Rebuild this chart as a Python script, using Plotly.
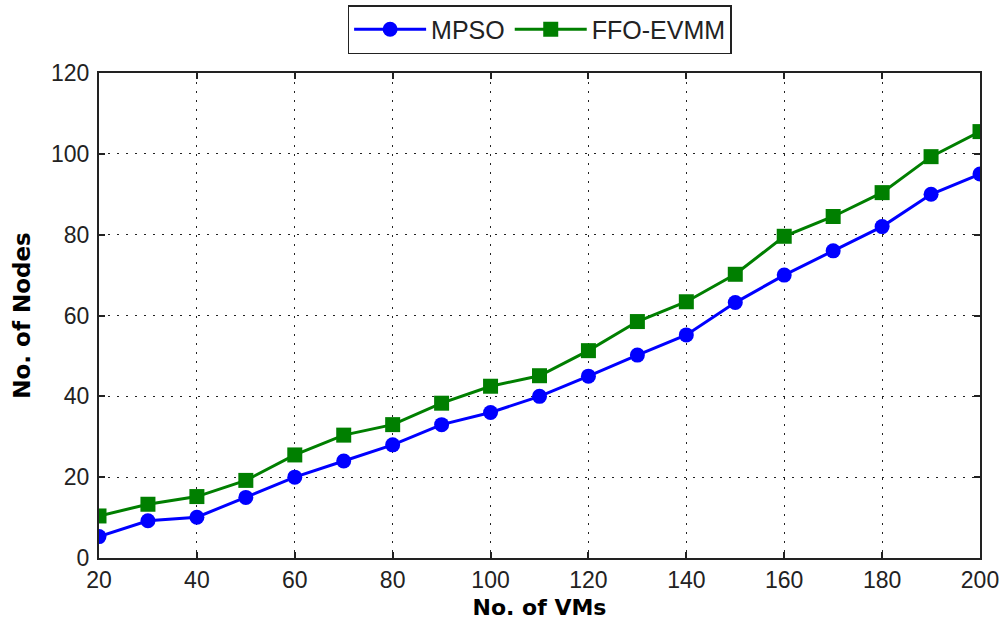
import plotly.graph_objects as go

vms = [20, 30, 40, 50, 60, 70, 80, 90, 100, 110, 120, 130, 140, 150, 160, 170, 180, 190, 200]
mpso = [5.3, 9.2, 10.1, 15.0, 20.0, 24.0, 28.0, 33.0, 36.0, 40.0, 45.0, 50.2, 55.2, 63.2, 70.0, 76.0, 82.0, 90.0, 95.0]
ffo_evmm = [10.4, 13.3, 15.2, 19.2, 25.5, 30.4, 33.0, 38.3, 42.5, 45.1, 51.3, 58.5, 63.4, 70.2, 79.6, 84.5, 90.4, 99.3, 105.5]

x_ticks = [20, 40, 60, 80, 100, 120, 140, 160, 180, 200]
y_ticks = [0, 20, 40, 60, 80, 100, 120]

tick_font = dict(family="Liberation Sans, Arial", size=23, color="#222")
title_font = dict(family="DejaVu Sans, Arial", size=22, color="black", weight="bold")

fig = go.Figure()
fig.add_trace(go.Scatter(
    x=vms, y=mpso, name="MPSO", mode="lines+markers",
    line=dict(color="#0000ff", width=3),
    marker=dict(symbol="circle", size=15, color="#0000ff"),
))
fig.add_trace(go.Scatter(
    x=vms, y=ffo_evmm, name="FFO-EVMM", mode="lines+markers",
    line=dict(color="#007f00", width=3),
    marker=dict(symbol="square", size=15, color="#007f00"),
))

axis_common = dict(
    showline=True, linecolor="#222", linewidth=2, mirror="ticks",
    ticks="inside", ticklen=6, tickcolor="#222", tickwidth=1.5,
    showgrid=True, gridcolor="#222", griddash="2px,7px", gridwidth=1.2,
    zeroline=False, tickfont=tick_font, automargin=False,
)

fig.update_layout(
    width=1003, height=628,
    margin=dict(l=99, r=23, t=73, b=70),
    paper_bgcolor="white", plot_bgcolor="white",
    xaxis=dict(range=[20, 200], tickvals=x_ticks, ticktext=[str(v) for v in x_ticks],
               title=dict(text="No. of VMs", font=title_font, standoff=8),
               **axis_common),
    yaxis=dict(range=[0, 120], tickvals=y_ticks, ticktext=[str(v) for v in y_ticks],
               title=dict(text="No. of Nodes", font=dict(title_font, size=23), standoff=14),
               ticklabelstandoff=3,
               **axis_common),
    legend=dict(
        orientation="h", xref="container", yref="container",
        x=0.538, xanchor="center", y=0.992, yanchor="top",
        bordercolor="#222", borderwidth=1.5, bgcolor="white",
        font=dict(family="Liberation Sans, Arial", size=25, color="#222"),
        itemwidth=72,
    ),
    showlegend=True,
)

fig.write_html("out.html")
